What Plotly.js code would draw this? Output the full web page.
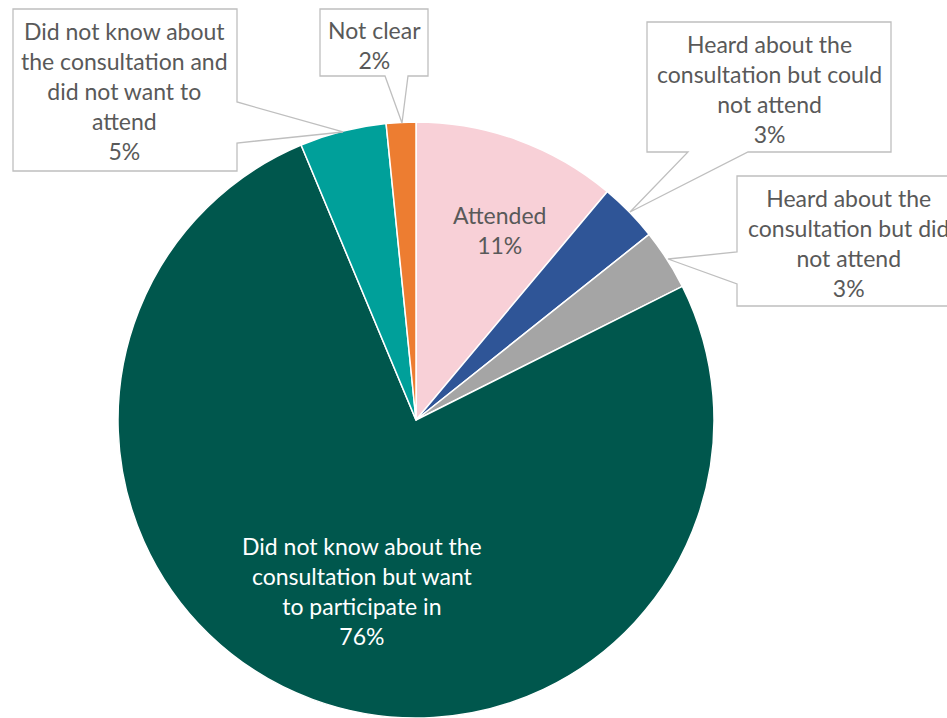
<!DOCTYPE html>
<html>
<head>
<meta charset="utf-8">
<script src="https://cdn.plot.ly/plotly-3.0.1.min.js"></script>
<style>html,body{margin:0;padding:0;background:#fff;}#chart{width:947px;height:718px;}</style>
</head>
<body>
<div id="chart"></div>
<script>
// ---- data ----
const categories = [
  "Attended",
  "Heard about the consultation but could not attend",
  "Heard about the consultation but did not attend",
  "Did not know about the consultation but want to participate in",
  "Did not know about the consultation and did not want to attend",
  "Not clear"
];
const wrappedLabels = [
  "Attended",
  "Heard about the<br>consultation but could<br>not attend",
  "Heard about the<br>consultation but did<br>not attend",
  "Did not know about the<br>consultation but want<br>to participate in",
  "Did not know about<br>the consultation and<br>did not want to<br>attend",
  "Not clear"
];
const values = [11.1, 3.2, 3.3, 76.1, 4.7, 1.6];
const colors = ["#F8D0D7", "#2F5597", "#A5A5A5", "#00574D", "#00A09A", "#ED7D31"];

// ---- layout helpers (pixel -> paper) ----
const W = 947, H = 718;
const px = x => x / W;
const py = y => 1 - y / H;
function pathFrom(pts) {
  return "M" + pts.map(p => px(p[0]).toFixed(5) + "," + py(p[1]).toFixed(5)).join(" L") + " Z";
}

const total = values.reduce((a, b) => a + b, 0);
const pct = values.map(v => Math.round(v / total * 100) + "%");
const labelText = i => wrappedLabels[i] + "<br>" + pct[i];

// label placements: [cx, cy, color, callout polygon or null]
const placements = [
  [500, 230, "#595959", null],
  [769, 89, "#595959", [[647,22],[891,22],[891,152],[748,152],[630,212],[688,152],[647,152]]],
  [848, 243, "#595959", [[737,176],[962,176],[962,306],[737,306],[737,284],[668,259],[737,252]]],
  [362, 591, "#FFFFFF", null],
  [125, 91, "#595959", [[13,9],[237,9],[237,102],[343,132],[237,143],[237,171],[13,171]]],
  [374, 45, "#595959", [[320,9],[428,9],[428,76],[408,76],[402,123],[385,76],[320,76]]]
];

const FONT = "Lato, 'Open Sans', sans-serif";
const shapes = [], annotations = [];
placements.forEach((p, i) => {
  if (p[3]) {
    shapes.push({
      type: "path", xref: "paper", yref: "paper", path: pathFrom(p[3]),
      fillcolor: "#FFFFFF", line: {color: "#BFBFBF", width: 1.3}, layer: "above"
    });
  }
  annotations.push({
    xref: "paper", yref: "paper", x: px(p[0]), y: py(p[1]),
    xanchor: "center", yanchor: "middle", showarrow: false, align: "center",
    text: labelText(i), font: {family: FONT, size: 23, color: p[2]}
  });
});

const R = 298, CX = 416;
const trace = {
  type: "pie",
  labels: categories,
  values: values,
  sort: false,
  direction: "clockwise",
  rotation: 0,
  textinfo: "none",
  hoverinfo: "label+percent",
  marker: {colors: colors, line: {color: "#FFFFFF", width: 1.5}},
  domain: {x: [px(CX - R), px(CX + R)], y: [0, 2 * R / H]}
};

const layout = {
  width: W, height: H,
  margin: {l: 0, r: 0, t: 0, b: 0},
  showlegend: false,
  paper_bgcolor: "#FFFFFF",
  font: {family: FONT},
  shapes: shapes,
  annotations: annotations
};

Plotly.newPlot("chart", [trace], layout, {displayModeBar: false, staticPlot: true});
</script>
</body>
</html>
